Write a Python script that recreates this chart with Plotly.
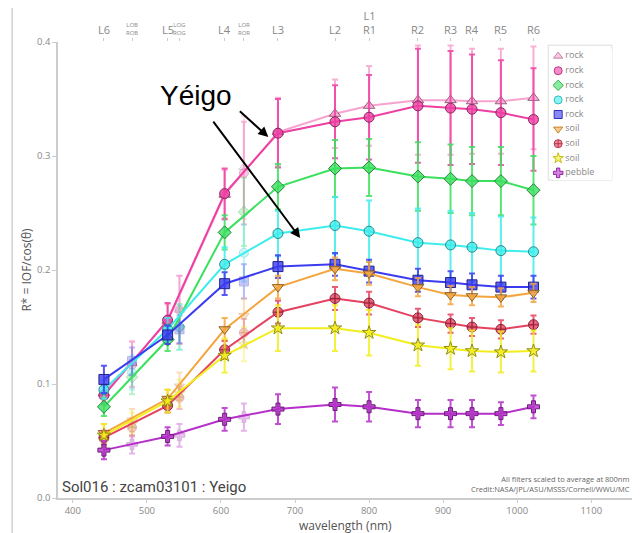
import plotly.graph_objects as go

# ---------------- data ----------------
wl_main = [442, 528, 605, 677, 754, 800, 866, 910, 939, 978, 1022]
wl_bayer = [480, 544, 631]

names = ["rock", "rock", "rock", "rock", "rock", "soil", "soil", "soil", "pebble"]
symbols = ["triangle-up", "circle", "diamond", "circle", "square",
           "triangle-down", "circle-cross", "star", "cross"]
colors = ["#f7a3cf", "#ee3fa3", "#3be05e", "#3fecec", "#3b3bef",
          "#f4a53e", "#e6415f", "#f2ee1c", "#b52fc9"]

vals_main = [
    [0.092, 0.155, 0.266, 0.321, 0.337, 0.344, 0.349, 0.349, 0.348, 0.348, 0.351],
    [0.090, 0.156, 0.267, 0.320, 0.330, 0.334, 0.344, 0.342, 0.341, 0.338, 0.332],
    [0.080, 0.139, 0.233, 0.273, 0.289, 0.290, 0.282, 0.280, 0.278, 0.278, 0.270],
    [0.095, 0.148, 0.205, 0.232, 0.239, 0.234, 0.224, 0.222, 0.220, 0.217, 0.216],
    [0.104, 0.143, 0.188, 0.203, 0.205, 0.199, 0.191, 0.189, 0.187, 0.185, 0.185],
    [0.057, 0.087, 0.148, 0.185, 0.201, 0.197, 0.185, 0.178, 0.177, 0.176, 0.180],
    [0.053, 0.081, 0.130, 0.163, 0.175, 0.171, 0.158, 0.153, 0.150, 0.148, 0.152],
    [0.055, 0.085, 0.125, 0.149, 0.149, 0.145, 0.134, 0.131, 0.129, 0.128, 0.129],
    [0.042, 0.054, 0.069, 0.078, 0.082, 0.080, 0.074, 0.074, 0.074, 0.074, 0.080],
]
err_main = [
    [0.008, 0.015, 0.022, 0.030, 0.030, 0.035, 0.048, 0.048, 0.046, 0.046, 0.045],
    [0.008, 0.015, 0.022, 0.030, 0.032, 0.037, 0.050, 0.050, 0.048, 0.046, 0.045],
    [0.008, 0.010, 0.015, 0.020, 0.025, 0.025, 0.030, 0.030, 0.030, 0.030, 0.030],
    [0.008, 0.010, 0.015, 0.020, 0.025, 0.027, 0.030, 0.030, 0.030, 0.030, 0.030],
    [0.012, 0.008, 0.010, 0.010, 0.010, 0.010, 0.010, 0.010, 0.010, 0.010, 0.010],
    [0.008, 0.008, 0.010, 0.010, 0.010, 0.010, 0.008, 0.008, 0.008, 0.008, 0.008],
    [0.006, 0.006, 0.008, 0.010, 0.010, 0.010, 0.008, 0.008, 0.008, 0.008, 0.008],
    [0.010, 0.010, 0.015, 0.020, 0.020, 0.020, 0.018, 0.018, 0.018, 0.018, 0.018],
    [0.008, 0.008, 0.010, 0.013, 0.015, 0.013, 0.012, 0.012, 0.012, 0.010, 0.010],
]
vals_bayer = [
    [0.118, 0.165, 0.290],
    [0.117, 0.165, 0.285],
    [0.106, 0.150, 0.251],
    [0.110, 0.150, 0.215],
    [0.120, 0.148, 0.190],
    [0.068, 0.098, 0.160],
    [0.062, 0.088, 0.145],
    [0.065, 0.092, 0.135],
    [0.047, 0.055, 0.071],
]
err_bayer = [
    [0.020, 0.030, 0.045],
    [0.020, 0.030, 0.045],
    [0.015, 0.020, 0.030],
    [0.015, 0.020, 0.025],
    [0.012, 0.012, 0.015],
    [0.010, 0.012, 0.015],
    [0.008, 0.010, 0.012],
    [0.010, 0.012, 0.015],
    [0.008, 0.010, 0.012],
]

filter_wl = [442, 480, 528, 544, 605, 631, 677, 754, 800, 866, 910, 939, 978, 1022]
filter_lbl = ["L6", "LOB<br>ROB", "L5", "LOG<br>ROG", "L4", "LOR<br>ROR", "L3", "L2",
              "L1<br>R1", "R2", "R3", "R4", "R5", "R6"]
filter_small = [False, True, False, True, False, True, False, False,
                False, False, False, False, False, False]

x_ticks = [400, 500, 600, 700, 800, 900, 1000, 1100]
y_ticks = [0.0, 0.1, 0.2, 0.3, 0.4]


def rgba(hexc, a):
    h = hexc.lstrip("#")
    r, g, b = int(h[0:2], 16), int(h[2:4], 16), int(h[4:6], 16)
    return f"rgba({r},{g},{b},{a})"


def darker(hexc, f=0.7):
    h = hexc.lstrip("#")
    r, g, b = int(h[0:2], 16), int(h[2:4], 16), int(h[4:6], 16)
    return f"rgb({int(r*f)},{int(g*f)},{int(b*f)})"


fig = go.Figure()

# faded bayer points
for i in range(len(names)):
    fig.add_trace(go.Scatter(
        x=wl_bayer, y=vals_bayer[i], mode="markers", showlegend=False,
        opacity=0.35,
        marker=dict(symbol=symbols[i], size=9, color=rgba(colors[i], 0.8),
                    line=dict(color=darker(colors[i]), width=1)),
        error_y=dict(type="data", array=err_bayer[i], color=colors[i],
                     thickness=2, width=3),
    ))

# main spectra
for i in range(len(names)):
    fig.add_trace(go.Scatter(
        x=wl_main, y=vals_main[i], mode="lines+markers", showlegend=False,
        line=dict(color=colors[i], width=2),
        marker=dict(symbol=symbols[i], size=10, color=rgba(colors[i], 0.8),
                    line=dict(color=darker(colors[i], 0.6), width=1)),
        error_y=dict(type="data", array=err_main[i], color=rgba(colors[i], 0.85),
                     thickness=2, width=3),
    ))

# compact legend drawn on its own small overlay axes
leg_idx = list(range(len(names)))
fig.add_trace(go.Scatter(
    x=[0] * len(names), y=leg_idx, mode="markers", showlegend=False,
    xaxis="x3", yaxis="y3",
    marker=dict(symbol=symbols, size=8,
                color=[rgba(c, 0.6) for c in colors],
                line=dict(color=[darker(c, 0.8) for c in colors], width=1)),
    hoverinfo="skip",
))
fig.add_trace(go.Scatter(
    x=[0.8] * len(names), y=leg_idx, mode="text", showlegend=False,
    xaxis="x3", yaxis="y3",
    text=names, textposition="middle right",
    textfont=dict(size=9, color="#888", family="Open Sans"),
    hoverinfo="skip",
))

# top filter ticks (via a second x axis)
fig.add_trace(go.Scatter(x=filter_wl, y=[None]*len(filter_wl), xaxis="x2",
                         showlegend=False, mode="markers"))

annotations = []
for w, lbl, sm in zip(filter_wl, filter_lbl, filter_small):
    annotations.append(dict(
        x=w, xref="x", y=1, yref="paper", yanchor="bottom", xanchor="center",
        text=lbl, showarrow=False, yshift=3,
        font=dict(size=6 if sm else 11, color="#888", family="Open Sans"),
    ))

annotations += [
    dict(x=566, y=0.3535, xref="x", yref="y", text="Yéigo", showarrow=False,
         font=dict(size=28, color="black", family="Liberation Sans")),
    dict(x=664, y=0.3167, xref="x", yref="y", ax=-30, ay=-27, text="",
         showarrow=True, arrowhead=2, arrowsize=1, arrowwidth=2, arrowcolor="black"),
    dict(x=707, y=0.228, xref="x", yref="y", ax=-88, ay=-118, text="",
         showarrow=True, arrowhead=2, arrowsize=1, arrowwidth=2, arrowcolor="black"),
    dict(x=0.003, y=0, xref="paper", yref="paper", xanchor="left", yanchor="bottom",
         text="Sol016 : zcam03101 : Yeigo", showarrow=False,
         font=dict(size=15, color="#444", family="Roboto")),
    dict(x=1, y=0, xref="paper", yref="paper", xanchor="right", yanchor="bottom",
         yshift=2, align="right",
         text="All filters scaled to average at 800nm<br>Credit:NASA/JPL/ASU/MSSS/Cornell/WWU/MC",
         showarrow=False, font=dict(size=7.5, color="#666", family="Open Sans")),
    dict(x=0.5, y=0, xref="paper", yref="paper", xanchor="center", yanchor="middle",
         yshift=-27, text="wavelength (nm)", showarrow=False,
         font=dict(size=12, color="#555", family="Open Sans")),
]

fig.update_layout(
    width=635, height=525,
    margin=dict(l=50, r=11, t=34, b=35),
    paper_bgcolor="white", plot_bgcolor="white",
    font=dict(family="Open Sans", color="#777"),
    showlegend=False,
    xaxis=dict(range=[380, 1155], tickvals=x_ticks, showgrid=False, zeroline=False,
               automargin=False,
               showline=True, linecolor="#ccc", linewidth=1.5, ticks="outside",
               ticklen=3, tickcolor="#ccc", tickfont=dict(size=9.5, color="#888")),
    xaxis2=dict(range=[380, 1155], overlaying="x", side="top", tickvals=filter_wl,
                automargin=False,
                showticklabels=False, ticks="outside", ticklen=3, tickcolor="#ccc",
                showgrid=False, zeroline=False, showline=False),
    yaxis=dict(range=[0, 0.4], tickvals=y_ticks, tickformat=".1f", showgrid=False,
               automargin=False,
               zeroline=False, showline=True, linecolor="#ccc", linewidth=1.5,
               ticks="outside", ticklen=4, tickcolor="#ccc",
               tickfont=dict(size=9.5, color="#888"),
               title=dict(text="R* = IOF/cos(θ)", font=dict(size=12, color="#555"),
                          standoff=3)),
    xaxis3=dict(domain=[0.862, 0.965], range=[-0.6, 6], visible=False,
                anchor="y3", fixedrange=True),
    yaxis3=dict(domain=[0.697, 0.985], range=[8.5, -0.5], visible=False,
                anchor="x3", fixedrange=True),
    annotations=annotations,
    shapes=[
        dict(type="line", xref="paper", yref="paper", x0=-0.08, x1=-0.08,
             y0=-0.08, y1=1.09, line=dict(color="#bbb", width=1)),
        dict(type="rect", xref="paper", yref="paper", x0=0.854, x1=0.965,
             y0=0.697, y1=0.993, line=dict(color="#ddd", width=1),
             fillcolor="rgba(255,255,255,0)", layer="below"),
    ],
)

fig.write_html("out.html")
